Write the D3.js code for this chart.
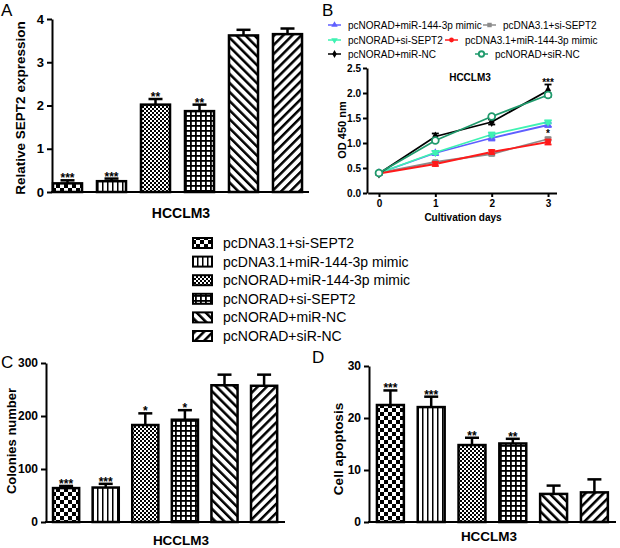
<!DOCTYPE html>
<html><head><meta charset="utf-8">
<script src="https://cdn.jsdelivr.net/npm/d3@7"></script>
<style>
body{margin:0;background:#fff;}
text{font-family:"Liberation Sans",Arial,sans-serif;}
</style></head>
<body><svg id="c" width="620" height="548"></svg>
<script>
// ---------- data ----------
const groups = ["pcDNA3.1+si-SEPT2","pcDNA3.1+miR-144-3p mimic","pcNORAD+miR-144-3p mimic","pcNORAD+si-SEPT2","pcNORAD+miR-NC","pcNORAD+siR-NC"];
const sept2Mean = [0.20,0.25,2.02,1.87,3.62,3.65];
const sept2Err  = [0.07,0.06,0.13,0.15,0.13,0.13];
const sept2Stars = ["***","***","**","**","",""];
const sept2Ticks = [0,1,2,3,4];

const colonyMean = [64,65,183,193,258,257];
const colonyErr  = [4,7,22,18,20,21];
const colonyStars = ["***","***","*","*","",""];
const colonyTicks = [0,100,200,300];

const apopMean = [22.5,22.1,14.8,15.1,5.4,5.7];
const apopErr  = [2.8,2.0,1.4,0.9,1.6,2.5];
const apopStars = ["***","***","**","**","",""];
const apopTicks = [0,10,20,30];

const days = [0,1,2,3];
const odTicks = [0,0.5,1.0,1.5,2.0,2.5];
const lineNames = ["pcNORAD+miR-144-3p mimic","pcDNA3.1+si-SEPT2","pcNORAD+si-SEPT2","pcDNA3.1+miR-144-3p mimic","pcNORAD+miR-NC","pcNORAD+siR-NC"];
const odBlue  = [0.40,0.80,1.10,1.36];
const odGray  = [0.40,0.62,0.78,1.08];
const odAqua  = [0.40,0.81,1.17,1.42];
const odRed   = [0.39,0.58,0.82,1.02];
const odBlack = [0.39,1.13,1.42,2.05];
const odGreen = [0.40,1.05,1.53,1.96];
const errBlue  = [0.02,0.04,0.05,0.04];
const errGray  = [0.02,0.02,0.03,0.03];
const errAqua  = [0.02,0.03,0.04,0.03];
const errRed   = [0.02,0.04,0.04,0.05];
const errBlack = [0.02,0.06,0.05,0.12];
const errGreen = [0.02,0.03,0.02,0.04];

// ---------- setup ----------
const svg = d3.select("#c");
const defs = svg.append("defs");
const FONT = '"Liberation Sans",Arial,sans-serif';

function pat(id, w, h, transform){
  const p = defs.append("pattern").attr("id",id).attr("patternUnits","userSpaceOnUse")
    .attr("width",w).attr("height",h);
  if(transform) p.attr("patternTransform",transform);
  p.append("rect").attr("width",w).attr("height",h).attr("fill","#fff");
  return p;
}
// 1 checker
let p = pat("p0",8,8);
p.append("rect").attr("x",0).attr("y",0).attr("width",4).attr("height",4).attr("fill","#000");
p.append("rect").attr("x",4).attr("y",4).attr("width",4).attr("height",4).attr("fill","#000");
// 2 vertical lines
p = pat("p1",5,5);
p.append("rect").attr("x",2).attr("y",0).attr("width",1.5).attr("height",5).attr("fill","#000");
// 3 fine checker
p = pat("p2",4,4);
p.append("rect").attr("x",0).attr("y",0).attr("width",2).attr("height",2).attr("fill","#000");
p.append("rect").attr("x",2).attr("y",2).attr("width",2).attr("height",2).attr("fill","#000");
// 4 grid
p = pat("p3",5,5);
p.append("rect").attr("x",0).attr("y",0).attr("width",5).attr("height",1.8).attr("fill","#000");
p.append("rect").attr("x",0).attr("y",0).attr("width",1.8).attr("height",5).attr("fill","#000");
// 5 diag "\"
p = pat("p4",6.4,6.4,"rotate(-45)");
p.append("rect").attr("x",0).attr("y",0).attr("width",2.5).attr("height",6.4).attr("fill","#000");
// 6 diag "/"
p = pat("p5",6.4,6.4,"rotate(45)");
p.append("rect").attr("x",0).attr("y",0).attr("width",2.5).attr("height",6.4).attr("fill","#000");

const patIds = ["p0","p1","p2","p3","p4","p5"];

function styleAxis(g, fs){
  g.select(".domain").attr("stroke","#000").attr("stroke-width",2);
  g.selectAll(".tick line").attr("stroke","#000").attr("stroke-width",2);
  g.selectAll(".tick text").attr("fill","#000").attr("font-family",FONT)
    .attr("font-weight","bold").attr("font-size",fs);
}

function barPanel(c){
  const g = svg.append("g");
  const x = d3.scaleBand().domain(groups).range(c.xr).paddingInner(0.34).paddingOuter(0.17);
  const y = d3.scaleLinear().domain([0,c.ymax]).range(c.yr);
  g.selectAll("rect.bar").data(groups).join("rect")
    .attr("x",d=>x(d)).attr("width",x.bandwidth())
    .attr("y",(d,i)=>y(c.mean[i])).attr("height",(d,i)=>y(0)-y(c.mean[i]))
    .attr("fill",(d,i)=>`url(#${patIds[i]})`).attr("stroke","#000").attr("stroke-width",2.5);
  groups.forEach((d,i)=>{
    const cx = x(d)+x.bandwidth()/2;
    const yt = y(c.mean[i]+c.err[i]);
    g.append("line").attr("x1",cx).attr("x2",cx).attr("y1",y(c.mean[i])).attr("y2",yt)
      .attr("stroke","#000").attr("stroke-width",2.5);
    g.append("line").attr("x1",cx-7).attr("x2",cx+7).attr("y1",yt).attr("y2",yt)
      .attr("stroke","#000").attr("stroke-width",2.5);
    if(c.stars[i]) g.append("text").attr("x",cx).attr("y",yt+2).attr("text-anchor","middle")
      .attr("font-size",12).attr("font-weight","bold").text(c.stars[i]);
  });
  const ya = g.append("g").attr("transform",`translate(${c.axisX},0)`)
    .call(d3.axisLeft(y).tickValues(c.ticks).tickFormat(d3.format("d")).tickSize(5).tickSizeOuter(0).tickPadding(3));
  styleAxis(ya, c.tfs);
  g.append("line").attr("x1",c.axisX-1).attr("x2",c.axisEnd).attr("y1",y(0)).attr("y2",y(0))
    .attr("stroke","#000").attr("stroke-width",2);
  g.append("text").attr("transform",`translate(${c.ylx},${c.yly}) rotate(-90)`)
    .attr("text-anchor","middle").attr("font-weight","bold").attr("font-size",c.ylfs).text(c.ylabel);
  g.append("text").attr("x",c.xlx).attr("y",c.xly).attr("text-anchor","middle")
    .attr("font-weight","bold").attr("font-size",c.xlfs).text("HCCLM3");
  g.append("text").attr("x",c.px).attr("y",c.py).attr("font-size",17).text(c.panel);
}

barPanel({xr:[45.5,309.5], yr:[192,19], ymax:4, ticks:sept2Ticks, mean:sept2Mean, err:sept2Err, stars:sept2Stars,
  axisX:52, axisEnd:309, tfs:13, ylabel:"Relative SEPT2 expression", ylx:25, yly:108, ylfs:13.5,
  xlx:181, xly:218, xlfs:14, panel:"A", px:1, py:16});
barPanel({xr:[46.3,283.9], yr:[522,363], ymax:300, ticks:colonyTicks, mean:colonyMean, err:colonyErr, stars:colonyStars,
  axisX:46, axisEnd:285, tfs:12, ylabel:"Colonies number", ylx:16, yly:441, ylfs:13,
  xlx:181, xly:545, xlfs:13.5, panel:"C", px:1, py:368});
barPanel({xr:[370,614.8], yr:[522,366], ymax:30, ticks:apopTicks, mean:apopMean, err:apopErr, stars:apopStars,
  axisX:369, axisEnd:616, tfs:12, ylabel:"Cell apoptosis", ylx:343, yly:449, ylfs:13.5,
  xlx:489, xly:541, xlfs:13.5, panel:"D", px:312, py:363});

// ---------- middle legend ----------
const lg = svg.append("g");
groups.forEach((d,i)=>{
  const yy = 243 + i*18.6;
  lg.append("rect").attr("x",193).attr("y",yy-5).attr("width",19).attr("height",10)
    .attr("fill",`url(#${patIds[i]})`).attr("stroke","#000").attr("stroke-width",2);
  lg.append("text").attr("x",223).attr("y",yy).attr("dy","0.36em").attr("font-size",14).text(d);
});

// ---------- panel B ----------
const gb = svg.append("g");
const xb = d3.scaleLinear().domain([-0.2,3.15]).range([367.7,556.5]);
const yb = d3.scaleLinear().domain([0,2.5]).range([193,68]);
const series = [
  {name:lineNames[0], v:odBlue,  e:errBlue,  color:"#5f5fff", shape:d3.symbolTriangle},
  {name:lineNames[1], v:odGray,  e:errGray,  color:"#8c8c8c", shape:d3.symbolSquare},
  {name:lineNames[2], v:odAqua,  e:errAqua,  color:"#3ef2b2", shape:"tri-down"},
  {name:lineNames[3], v:odRed,   e:errRed,   color:"#ff1a1a", shape:d3.symbolCircle},
  {name:lineNames[4], v:odBlack, e:errBlack, color:"#000000", shape:d3.symbolDiamond},
  {name:lineNames[5], v:odGreen, e:errGreen, color:"#1f9a6c", shape:"ring"}
];
function marker(g, s, cx, cy, size){
  if(s.shape==="ring"){
    g.append("circle").attr("cx",cx).attr("cy",cy).attr("r",size/2.2).attr("fill","#fff")
      .attr("stroke",s.color).attr("stroke-width",1.8);
  } else if(s.shape==="tri-down"){
    g.append("path").attr("d",d3.symbol(d3.symbolTriangle, size*size*0.5)()).attr("fill",s.color)
      .attr("transform",`translate(${cx},${cy}) rotate(180)`);
  } else {
    g.append("path").attr("d",d3.symbol(s.shape, size*size*(s.shape===d3.symbolSquare?0.55:0.5))()).attr("fill",s.color)
      .attr("transform",`translate(${cx},${cy})`);
  }
}
const line = d3.line().x((d,i)=>xb(days[i])).y(d=>yb(d));
series.forEach(s=>{
  gb.append("path").attr("d",line(s.v)).attr("fill","none").attr("stroke",s.color).attr("stroke-width",1.8);
});
series.forEach(s=>{
  s.v.forEach((v,i)=>{
    const cx = xb(days[i]);
    const y1 = yb(v+s.e[i]), y2 = yb(v-s.e[i]);
    gb.append("line").attr("x1",cx).attr("x2",cx).attr("y1",y1).attr("y2",y2).attr("stroke",s.color).attr("stroke-width",1.8);
    [y1,y2].forEach(yy=>gb.append("line").attr("x1",cx-3.5).attr("x2",cx+3.5).attr("y1",yy).attr("y2",yy)
      .attr("stroke",s.color).attr("stroke-width",1.8));
    marker(gb, s, cx, yb(v), 7.5);
  });
});
const yab = gb.append("g").attr("transform","translate(367,0)")
  .call(d3.axisLeft(yb).tickValues(odTicks).tickFormat(d3.format(".1f")).tickSize(4).tickSizeOuter(0).tickPadding(2));
styleAxis(yab, 10);
const xab = gb.append("g").attr("transform","translate(0,193)")
  .call(d3.axisBottom(xb).tickValues(days).tickFormat(d3.format("d")).tickSize(4).tickSizeOuter(0).tickPadding(3));
styleAxis(xab, 10);
gb.append("text").attr("x",548).attr("y",yb(odBlack[3]+errBlack[3])+1).attr("text-anchor","middle")
  .attr("font-size",10).attr("font-weight","bold").text("***");
gb.append("text").attr("x",548).attr("y",yb(odGray[3]+errGray[3])-1).attr("text-anchor","middle")
  .attr("font-size",10).attr("font-weight","bold").text("*");
gb.append("text").attr("x",470).attr("y",81).attr("text-anchor","middle").attr("font-weight","bold").attr("font-size",10).text("HCCLM3");
gb.append("text").attr("transform","translate(346,130) rotate(-90)").attr("text-anchor","middle")
  .attr("font-weight","bold").attr("font-size",11).text("OD 450 nm");
gb.append("text").attr("x",463).attr("y",221).attr("text-anchor","middle").attr("font-weight","bold").attr("font-size",10).text("Cultivation days");
gb.append("text").attr("x",322).attr("y",16).attr("font-size",17).text("B");
const lpos = [[348,25],[503,25],[348,40],[465,40],[348,54],[495,54]];
series.forEach((s,i)=>{
  const [tx,ty] = lpos[i];
  gb.append("line").attr("x1",tx-20).attr("x2",tx-7).attr("y1",ty).attr("y2",ty).attr("stroke",s.color).attr("stroke-width",1.5);
  marker(gb, s, tx-13.5, ty, 6);
  gb.append("text").attr("x",tx).attr("y",ty).attr("dy","0.35em").attr("font-size",10).text(s.name);
});
</script></body></html>
